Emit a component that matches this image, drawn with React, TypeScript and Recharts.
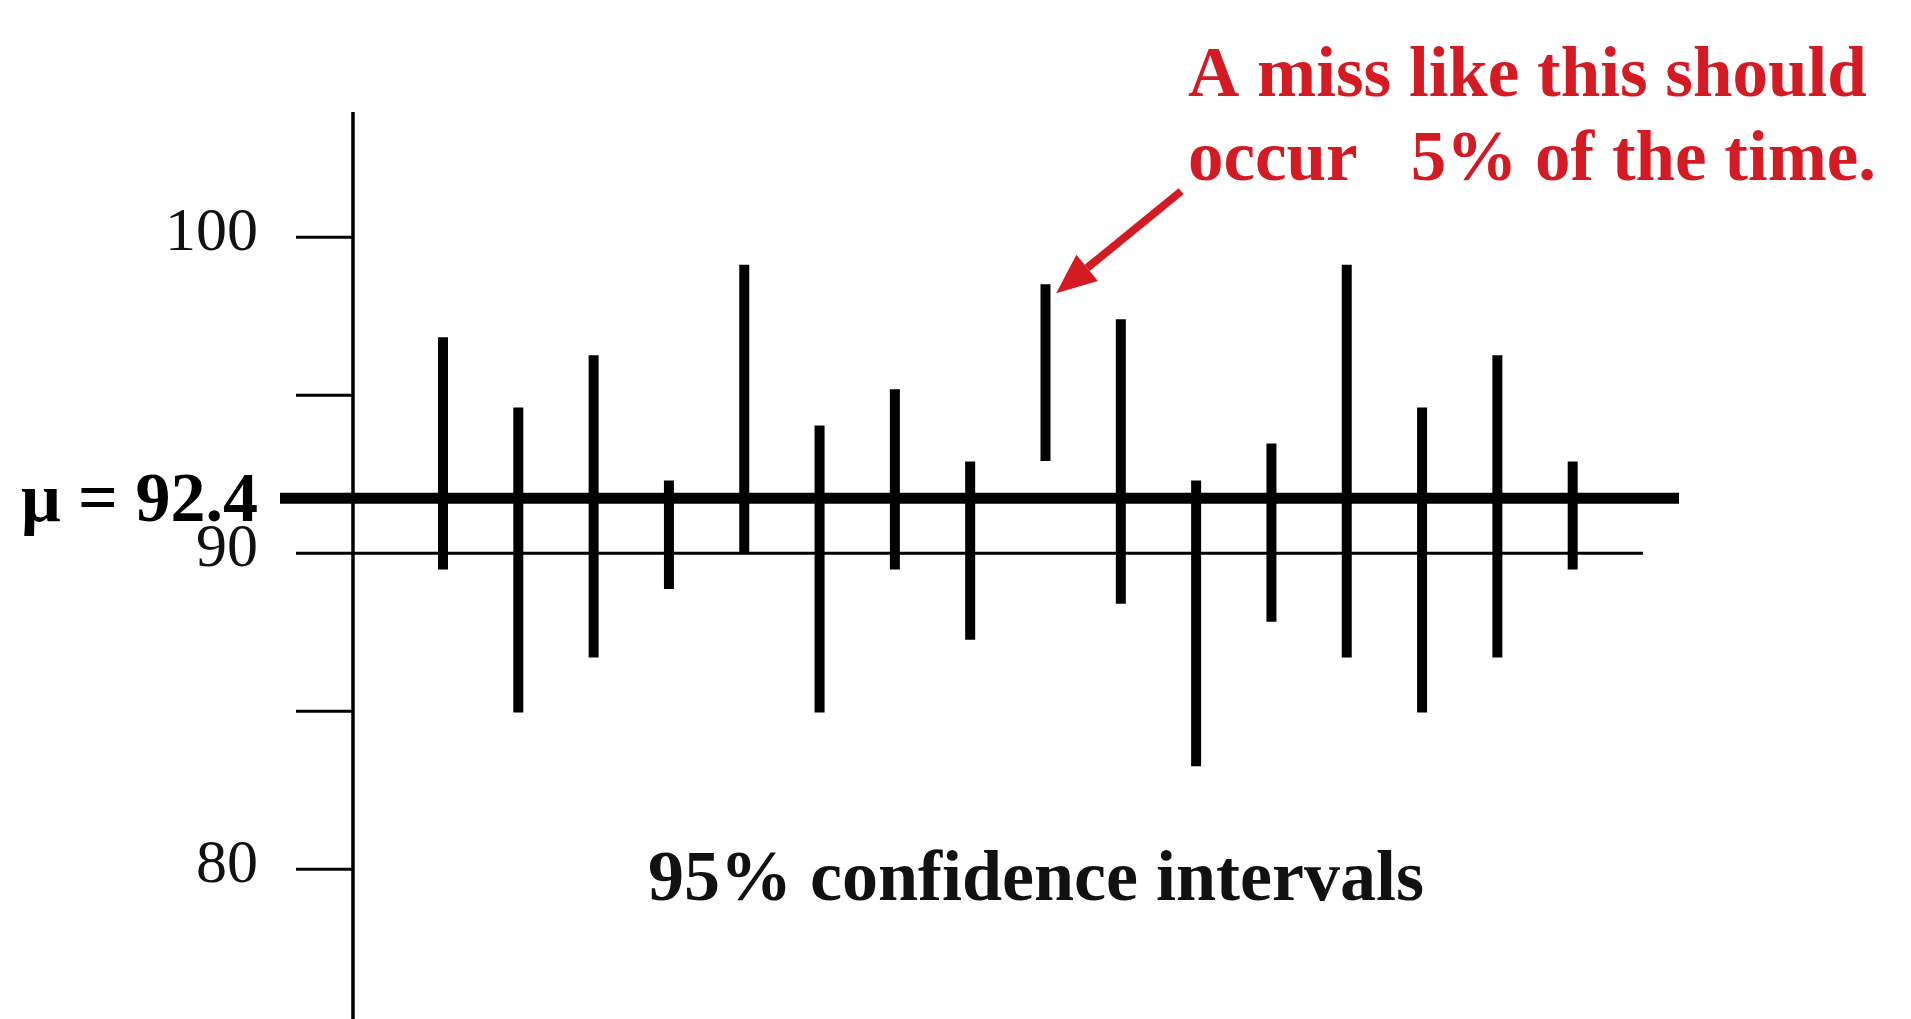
import React from 'react'
import { BarChart, Bar, XAxis, YAxis, ReferenceLine, ReferenceDot } from 'recharts'

// one interval per sample
const samples = ['1', '2', '3', '4', '5', '6', '7', '8', '9', '10', '11', '12', '13', '14', '15', '16']
const lows = [89.48, 84.96, 86.7, 88.87, 89.99, 84.96, 89.48, 87.26, 92.92, 88.4, 83.26, 87.83, 86.7, 84.96, 86.7, 89.48]
const highs = [96.83, 94.61, 96.26, 92.3, 99.13, 94.04, 95.19, 92.9, 98.51, 97.4, 92.3, 93.47, 99.13, 94.61, 96.26, 92.9]

const yTicks = [80, 85, 90, 95, 100]
const labeledTicks = [80, 90, 100]

const MU_LABEL = 'μ = 92.4'
const MU_LINE = 91.74 // where the thick line sits on the drawn axis
const MISS_INDEX = 8
const NOTE_LINES = ['A miss like this should', 'occur   5% of the time.']
const CAPTION = '95% confidence intervals'

const data = samples.map((name, i) => ({ name, low: lows[i], high: highs[i] }))

const SERIF = '"Liberation Serif", "Times New Roman", serif'
const RED = '#d41b24'

// keep the runs of spaces in the note
const keepSpaces = (s: string) => s.replace(/ /g, '\u00a0')

const YTick = (props: any) => {
  const { x, y, payload } = props
  if (!labeledTicks.includes(payload.value)) return null
  return (
    <text x={x} y={y} dy={13} textAnchor="end" fontFamily={SERIF} fontSize={62} fill="#111">
      {payload.value}
    </text>
  )
}

const MuLine = (props: any) => {
  const { x1, x2, y1 } = props
  return (
    <g>
      <line x1={x1 - 73} x2={x2 + 36} y1={y1} y2={y1} stroke="#000" strokeWidth={11} />
      <text x={x1 - 95} y={y1 + 23} textAnchor="end" fontFamily={SERIF} fontWeight="bold" fontSize={70} fill="#000">
        {MU_LABEL}
      </text>
    </g>
  )
}

const MissArrow = (props: any) => {
  const { cx, cy } = props
  const tipX = cx + 11
  const tipY = cy + 9
  const tailX = cx + 136
  const tailY = cy - 93
  const dx = tailX - tipX
  const dy = tailY - tipY
  const len = Math.sqrt(dx * dx + dy * dy)
  const ux = dx / len
  const uy = dy / len
  const bx = tipX + ux * 40
  const by = tipY + uy * 40
  const nx = -uy * 17
  const ny = ux * 17
  return (
    <g>
      <line x1={bx} y1={by} x2={tailX} y2={tailY} stroke={RED} strokeWidth={8} />
      <polygon points={`${tipX},${tipY} ${bx + nx},${by + ny} ${bx - nx},${by - ny}`} fill={RED} />
    </g>
  )
}

export default function App() {
  return (
    <div style={{ position: 'absolute', left: 0, top: 0, width: 1911, height: 1019, background: '#fff', overflow: 'hidden' }}>
      <BarChart width={1911} height={1019} data={data} margin={{ top: 112, right: 268, bottom: 0, left: 0 }}>
        <XAxis dataKey="name" type="category" hide padding={{ left: 52, right: 33 }} />
        <YAxis
          type="number"
          width={353}
          domain={[75.26, 103.96]}
          allowDataOverflow
          ticks={yTicks}
          interval={0}
          tickSize={57}
          tickMargin={38}
          axisLine={{ stroke: '#000', strokeWidth: 3.5 }}
          tickLine={{ stroke: '#000', strokeWidth: 3 }}
          tick={<YTick />}
        />
        <ReferenceLine y={90} stroke="#000" strokeWidth={3} />
        <Bar dataKey={(d: any) => [d.low, d.high]} barSize={10} fill="#000" isAnimationActive={false} />
        <ReferenceLine y={MU_LINE} shape={<MuLine />} />
        <ReferenceDot x={samples[MISS_INDEX]} y={highs[MISS_INDEX]} r={0} shape={<MissArrow />} />
      </BarChart>
      <svg width={1911} height={1019} style={{ position: 'absolute', left: 0, top: 0, pointerEvents: 'none' }}>
        <g fontFamily={SERIF} fontWeight="bold" fontSize={71} fill={RED}>
          <text x={1188} y={96}>{keepSpaces(NOTE_LINES[0])}</text>
          <text x={1188} y={180}>{keepSpaces(NOTE_LINES[1])}</text>
        </g>
        <text x={1036} y={900} textAnchor="middle" fontFamily={SERIF} fontWeight="bold" fontSize={72} fill="#111">
          {CAPTION}
        </text>
      </svg>
    </div>
  )
}
